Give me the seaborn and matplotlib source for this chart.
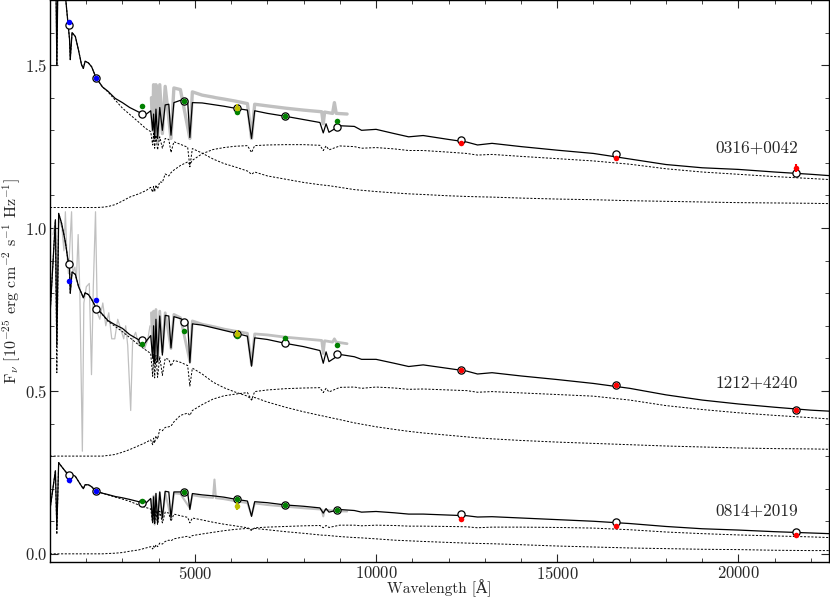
import matplotlib
matplotlib.use('Agg')
import matplotlib.pyplot as plt
from matplotlib.ticker import MultipleLocator
import seaborn as sns

# ------------------------------------------------------------------ data
# model wavelength grid [A] shared by the three composite fits
model_wave = [1000, 1150, 1190, 1240, 1320, 1420, 1500, 1540, 1560, 1610,
              1700, 1790, 1870, 1920, 1970, 2060, 2150, 2270, 2450, 2600,
              2800, 3000, 3200, 3450, 3650, 3780, 3835, 3860, 3889, 3925,
              3970, 4030, 4102, 4180, 4280, 4340, 4420, 4600, 4800, 4861,
              4930, 5200, 5500, 5800, 6100, 6450, 6563, 6650, 7000, 7500,
              8000, 8450, 8542, 8620, 8700, 9000, 9400, 9600, 10000, 10500,
              10900, 11300, 12000, 12500, 12800, 13200, 14000, 15000, 16000, 17000,
              18000, 19000, 20000, 21000, 22000, 22500]

# 0316+0042 (plotted with offset already in)
total_0316 = [1.80, 1.90, 1.50, 1.95, 1.95, 1.72, 1.625, 1.58, 1.517, 1.600,
              1.588, 1.545, 1.502, 1.490, 1.512, 1.507, 1.495, 1.462, 1.433, 1.420,
              1.398, 1.385, 1.370, 1.356, 1.349, 1.360, 1.300, 1.350, 1.275, 1.365,
              1.275, 1.370, 1.300, 1.378, 1.380, 1.285, 1.385, 1.392, 1.390, 1.278,
              1.385, 1.384, 1.379, 1.374, 1.368, 1.362, 1.275, 1.360, 1.352, 1.343,
              1.333, 1.324, 1.292, 1.320, 1.294, 1.314, 1.312, 1.300, 1.303, 1.290,
              1.280, 1.284, 1.272, 1.264, 1.255, 1.260, 1.250, 1.239, 1.229, 1.212,
              1.195, 1.185, 1.180, 1.172, 1.165, 1.161]
wd_0316 = [1.80, 1.90, 1.50, 1.95, 1.95, 1.72, 1.625, 1.58, 1.517, 1.600,
           1.588, 1.545, 1.502, 1.490, 1.512, 1.507, 1.495, 1.462, 1.433, 1.418,
           1.393, 1.368, 1.349, 1.325, 1.305, 1.296, 1.255, 1.290, 1.245, 1.285,
           1.240, 1.280, 1.245, 1.275, 1.272, 1.232, 1.265, 1.257, 1.248, 1.188,
           1.244, 1.230, 1.212, 1.198, 1.188, 1.175, 1.165, 1.172, 1.160, 1.150,
           1.140, 1.133, 1.132, 1.131, 1.130, 1.125, 1.118, 1.116, 1.112, 1.108,
           1.105, 1.103, 1.099, 1.097, 1.096, 1.095, 1.092, 1.089, 1.087, 1.084,
           1.082, 1.080, 1.078, 1.077, 1.076, 1.075]
md_0316 = [1.063, 1.063, 1.063, 1.063, 1.063, 1.063, 1.063, 1.063, 1.063, 1.063,
           1.063, 1.063, 1.063, 1.063, 1.063, 1.063, 1.063, 1.063, 1.064, 1.066,
           1.072, 1.083, 1.095, 1.105, 1.115, 1.125, 1.110, 1.128, 1.112, 1.132,
           1.120, 1.142, 1.140, 1.166, 1.160, 1.170, 1.178, 1.192, 1.203, 1.195,
           1.208, 1.228, 1.241, 1.247, 1.251, 1.253, 1.232, 1.253, 1.255, 1.256,
           1.256, 1.254, 1.238, 1.252, 1.240, 1.252, 1.250, 1.245, 1.247, 1.243,
           1.238, 1.238, 1.233, 1.229, 1.224, 1.226, 1.220, 1.213, 1.206, 1.196,
           1.182, 1.172, 1.165, 1.158, 1.152, 1.149]

# 1212+4240
total_1212 = [0.73, 1.025, 0.64, 1.045, 1.015, 0.960, 0.900, 0.875, 0.800, 0.865,
              0.858, 0.820, 0.800, 0.786, 0.801, 0.796, 0.781, 0.756, 0.735, 0.716,
              0.703, 0.692, 0.673, 0.657, 0.652, 0.670, 0.600, 0.700, 0.585, 0.720,
              0.590, 0.730, 0.610, 0.732, 0.730, 0.632, 0.728, 0.722, 0.712, 0.586,
              0.706, 0.702, 0.694, 0.686, 0.678, 0.668, 0.576, 0.663, 0.658, 0.646,
              0.636, 0.624, 0.585, 0.620, 0.590, 0.612, 0.605, 0.597, 0.597, 0.585,
              0.575, 0.580, 0.569, 0.561, 0.552, 0.556, 0.546, 0.535, 0.523, 0.508,
              0.488, 0.472, 0.460, 0.450, 0.441, 0.438]
wd_1212 = [0.73, 1.025, 0.556, 1.045, 1.015, 0.960, 0.900, 0.875, 0.800, 0.865,
           0.858, 0.820, 0.800, 0.786, 0.801, 0.796, 0.781, 0.755, 0.734, 0.714,
           0.698, 0.682, 0.664, 0.641, 0.625, 0.615, 0.545, 0.612, 0.540, 0.609,
           0.542, 0.605, 0.548, 0.600, 0.597, 0.576, 0.594, 0.588, 0.578, 0.515,
           0.570, 0.552, 0.527, 0.510, 0.497, 0.484, 0.474, 0.480, 0.466, 0.450,
           0.436, 0.425, 0.423, 0.421, 0.419, 0.412, 0.402, 0.398, 0.390, 0.382,
           0.376, 0.371, 0.364, 0.359, 0.356, 0.353, 0.348, 0.343, 0.339, 0.335,
           0.331, 0.328, 0.325, 0.323, 0.322, 0.321]
md_1212 = [0.300, 0.300, 0.300, 0.300, 0.300, 0.300, 0.300, 0.300, 0.300, 0.300,
           0.300, 0.300, 0.300, 0.300, 0.300, 0.300, 0.300, 0.300, 0.300, 0.302,
           0.305, 0.312, 0.320, 0.332, 0.342, 0.350, 0.335, 0.355, 0.340, 0.362,
           0.352, 0.382, 0.378, 0.388, 0.390, 0.392, 0.405, 0.425, 0.432, 0.425,
           0.440, 0.458, 0.475, 0.485, 0.490, 0.495, 0.472, 0.498, 0.503, 0.507,
           0.509, 0.510, 0.495, 0.508, 0.497, 0.511, 0.512, 0.508, 0.512, 0.509,
           0.505, 0.506, 0.503, 0.501, 0.496, 0.498, 0.494, 0.489, 0.484, 0.472,
           0.455, 0.443, 0.433, 0.425, 0.418, 0.414]

# 0814+2019
total_0814 = [0.136, 0.255, 0.080, 0.280, 0.268, 0.254, 0.243, 0.235, 0.218, 0.243,
              0.238, 0.222, 0.208, 0.200, 0.212, 0.212, 0.206, 0.192, 0.186, 0.182,
              0.176, 0.172, 0.167, 0.160, 0.156, 0.170, 0.100, 0.175, 0.095, 0.185,
              0.098, 0.190, 0.110, 0.192, 0.190, 0.111, 0.190, 0.190, 0.188, 0.136,
              0.185, 0.181, 0.178, 0.174, 0.168, 0.162, 0.115, 0.160, 0.157, 0.150,
              0.146, 0.141, 0.125, 0.139, 0.128, 0.136, 0.133, 0.128, 0.130, 0.126,
              0.122, 0.122, 0.119, 0.117, 0.113, 0.114, 0.110, 0.105, 0.100, 0.093,
              0.084, 0.077, 0.073, 0.068, 0.064, 0.062]
wd_0814 = [0.136, 0.255, 0.060, 0.280, 0.268, 0.254, 0.243, 0.235, 0.218, 0.243,
           0.238, 0.222, 0.208, 0.200, 0.212, 0.212, 0.206, 0.192, 0.186, 0.181,
           0.174, 0.168, 0.161, 0.150, 0.142, 0.138, 0.095, 0.136, 0.090, 0.134,
           0.090, 0.131, 0.095, 0.128, 0.125, 0.100, 0.122, 0.117, 0.112, 0.095,
           0.110, 0.104, 0.097, 0.091, 0.086, 0.080, 0.075, 0.078, 0.074, 0.068,
           0.063, 0.058, 0.057, 0.057, 0.056, 0.053, 0.050, 0.049, 0.046, 0.042,
           0.040, 0.038, 0.035, 0.033, 0.032, 0.031, 0.028, 0.024, 0.021, 0.018,
           0.016, 0.014, 0.013, 0.011, 0.010, 0.010]
md_0814 = [0.0, 0.0, 0.0, 0.0, 0.0, 0.0, 0.0, 0.0, 0.0, 0.0,
           0.0, 0.0, 0.0, 0.0, 0.0, 0.0, 0.0, 0.0, 0.0, 0.001,
           0.002, 0.004, 0.008, 0.012, 0.018, 0.022, 0.015, 0.024, 0.018, 0.028,
           0.022, 0.033, 0.030, 0.038, 0.042, 0.040, 0.046, 0.050, 0.054, 0.050,
           0.056, 0.061, 0.066, 0.071, 0.075, 0.078, 0.072, 0.080, 0.082, 0.084,
           0.086, 0.087, 0.080, 0.087, 0.081, 0.088, 0.088, 0.086, 0.088, 0.087,
           0.085, 0.085, 0.084, 0.083, 0.080, 0.082, 0.082, 0.081, 0.079, 0.074,
           0.067, 0.062, 0.058, 0.055, 0.052, 0.050]

# observed optical spectra (SDSS), same grid for all three
obs_wave = [3800, 3835, 3860, 3889, 3925, 3970, 4030, 4102, 4180, 4340,
            4420, 4600, 4861, 4930, 5200, 5500, 5540, 5580, 5800, 6100,
            6450, 6563, 6650, 7000, 7500, 8000, 8500, 8542, 8580, 8800,
            8850, 8900, 9200]
obs_0316 = [1.400, 1.300, 1.440, 1.270, 1.440, 1.265, 1.440, 1.290, 1.435, 1.275,
            1.430, 1.425, 1.275, 1.418, 1.408, 1.402, 1.401, 1.400, 1.396, 1.390,
            1.382, 1.275, 1.380, 1.375, 1.368, 1.362, 1.357, 1.320, 1.356, 1.352,
            1.385, 1.352, 1.350]
obs_1212 = [0.740, 0.620, 0.745, 0.580, 0.750, 0.590, 0.745, 0.620, 0.740, 0.630,
            0.735, 0.725, 0.590, 0.715, 0.705, 0.698, 0.697, 0.696, 0.690, 0.684,
            0.677, 0.580, 0.675, 0.672, 0.665, 0.660, 0.655, 0.615, 0.654, 0.650,
            0.660, 0.650, 0.645]
obs_0814 = [0.165, 0.100, 0.178, 0.090, 0.185, 0.095, 0.188, 0.105, 0.188, 0.110,
            0.186, 0.184, 0.140, 0.180, 0.175, 0.172, 0.228, 0.171, 0.168, 0.162,
            0.156, 0.118, 0.155, 0.150, 0.145, 0.140, 0.136, 0.115, 0.135, 0.133,
            0.132, 0.131, 0.130]

# ultraviolet spectrum of 1212+4240
uv_wave_1212 = [1083, 1150, 1190, 1250, 1330, 1385, 1425, 1468, 1510, 1550,
                1596, 1633, 1688, 1729, 1778, 1825, 1894, 1935, 2004, 2086,
                2146, 2196, 2257, 2306, 2375, 2458, 2540, 2623, 2705, 2788,
                2870, 2953, 3035, 3090, 3145, 3228, 3283, 3365, 3448, 3530,
                3613, 3695, 3760]
uv_flux_1212 = [0.98, 1.02, 0.75, 1.03, 1.00, 0.93, 1.05, 0.92, 0.86, 0.95,
                1.05, 0.86, 0.88, 0.84, 0.98, 0.80, 0.315, 0.77, 0.82, 0.83,
                0.55, 0.82, 1.05, 0.74, 0.72, 0.77, 0.70, 0.74, 0.66, 0.66,
                0.72, 0.69, 0.66, 0.70, 0.64, 0.44, 0.66, 0.68, 0.64, 0.66,
                0.63, 0.655, 0.70]

# photometry: FUV, NUV, u, g, r, i, z, J, H, Ks
phot_wave = [1528, 2271, 3551, 4686, 6166, 7480, 8932, 12350, 16620, 21590]
phot_colors = ['b', 'b', 'g', 'g', 'g', 'g', 'g', 'r', 'r', 'r']

phot_0316 = [1.631, 1.462, 1.374, 1.391, 1.357, 1.343, 1.328, 1.260, 1.216, 1.185]
err_0316 = [0.005, 0.004, 0.004, 0.003, 0.004, 0.003, 0.005, 0.006, 0.006, 0.012]
synth_0316 = [1.622, 1.462, 1.351, 1.391, 1.367, 1.343, 1.311, 1.270, 1.226, 1.168]
rband_0316 = 1.369

phot_1212 = [0.837, 0.779, 0.643, 0.683, 0.668, 0.661, 0.642, 0.563, 0.518, 0.443]
err_1212 = [0.008, 0.005, 0.004, 0.003, 0.003, 0.003, 0.004, 0.005, 0.005, 0.006]
synth_1212 = [0.890, 0.753, 0.655, 0.711, 0.676, 0.648, 0.612, 0.563, 0.518, 0.443]
rband_1212 = 0.676

phot_0814 = [0.226, 0.192, 0.161, 0.189, 0.167, 0.151, 0.136, 0.107, 0.085, 0.059]
err_0814 = [0.006, 0.004, 0.003, 0.003, 0.003, 0.003, 0.003, 0.005, 0.005, 0.005]
synth_0814 = [0.243, 0.192, 0.157, 0.189, 0.167, 0.151, 0.136, 0.121, 0.098, 0.066]
rband_0814 = 0.148

names = ['0316+0042', '1212+4240', '0814+2019']
name_y = [1.247, 0.523, 0.130]

# ------------------------------------------------------------------ style
sns.set_style('ticks')
plt.rcParams['font.family'] = ['cmr10', 'DejaVu Serif']
plt.rcParams['mathtext.fontset'] = 'cm'
plt.rcParams['axes.formatter.use_mathtext'] = True
plt.rcParams['axes.unicode_minus'] = False

fig = plt.figure(figsize=(8.3, 5.99), dpi=100)
ax = fig.add_axes([0.0602, 0.0618, 0.9386, 0.9382])

grey = '#c0c0c0'
dash = (0, (2.2, 1.6))

# observed spectra
sns.lineplot(x=uv_wave_1212, y=uv_flux_1212, ax=ax, color=grey, lw=0.9,
             estimator=None, sort=False)
for obs, lw in [(obs_0316, 2.4), (obs_1212, 2.0), (obs_0814, 1.5)]:
    sns.lineplot(x=obs_wave, y=obs, ax=ax, color=grey, lw=lw,
                 estimator=None, sort=False)

# model components
for wd, md, tot in [(wd_0316, md_0316, total_0316),
                    (wd_1212, md_1212, total_1212),
                    (wd_0814, md_0814, total_0814)]:
    sns.lineplot(x=model_wave, y=wd, ax=ax, color='k', lw=0.7, linestyle=dash,
                 estimator=None, sort=False)
    sns.lineplot(x=model_wave, y=md, ax=ax, color='k', lw=0.7, linestyle=dash,
                 estimator=None, sort=False)
    sns.lineplot(x=model_wave, y=tot, ax=ax, color='k', lw=0.9,
                 estimator=None, sort=False)

# photometry
for phot, err, synth, rb in [(phot_0316, err_0316, synth_0316, rband_0316),
                             (phot_1212, err_1212, synth_1212, rband_1212),
                             (phot_0814, err_0814, synth_0814, rband_0814)]:
    ax.plot(phot_wave, synth, 'o', mfc='white', mec='k', mew=0.9, ms=5.2, zorder=5)
    for w, f, e, c in zip(phot_wave, phot, err, phot_colors):
        ax.errorbar(w, f, yerr=e, fmt='o', color=c, ms=4.0, mew=0, elinewidth=1.5,
                    capsize=0, zorder=6)
    ax.errorbar(phot_wave[4], rb, yerr=0.012, fmt='o', color='y', ms=4.0, mew=0,
                elinewidth=1.5, capsize=0, zorder=6)

for n, y in zip(names, name_y):
    ax.text(19370, y, n, fontsize=12.5, va='center', ha='left')

ax.set_xlim(1000, 22500)
ax.set_ylim(-0.025, 1.7)
ax.xaxis.set_major_locator(MultipleLocator(5000))
ax.xaxis.set_minor_locator(MultipleLocator(1000))
ax.yaxis.set_major_locator(MultipleLocator(0.5))
ax.yaxis.set_minor_locator(MultipleLocator(0.1))
ax.tick_params(which='both', direction='in', top=True, right=True, labelsize=12,
               pad=2)
ax.tick_params(which='major', length=6, width=0.8)
ax.tick_params(which='minor', length=3, width=0.6)
for s in ax.spines.values():
    s.set_linewidth(1.0)
    s.set_color('k')

ax.set_xlabel('Wavelength [Å]', fontsize=11)
ax.xaxis.set_label_coords(0.5, -0.03)
ax.set_ylabel(r'F$_\nu$ [10$^{-25}$ erg cm$^{-2}$ s$^{-1}$ Hz$^{-1}$]', fontsize=11.5)
ax.yaxis.set_label_coords(-0.035, 0.5)

fig.savefig('out.png', dpi=100)
